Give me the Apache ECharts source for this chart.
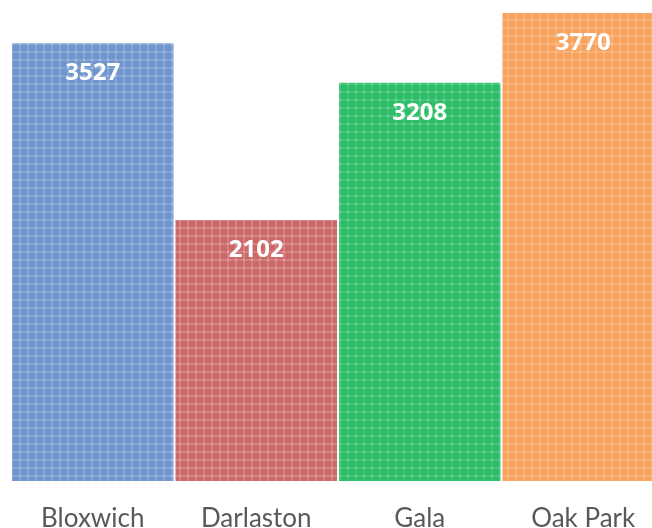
<!DOCTYPE html>
<html>
  <head>
    <meta charset="utf-8" />
    <title>Bars</title>
    <script src="https://cdn.jsdelivr.net/npm/echarts@6.0.0/dist/echarts.min.js"></script>
    <style>
      html, body { margin: 0; padding: 0; background: #fff; }
    </style>
  </head>
  <body>
    <div id="main" style="width: 652px;height:528px;"></div>
    <script type="text/javascript">
      var sites = ['Bloxwich', 'Darlaston', 'Gala', 'Oak Park'];
      var totals = [3527, 2102, 3208, 3770];
      var baseColors = ['#6e95cc', '#cc6868', '#2cbd67', '#f8a35d'];
      var lineColors = ['#84a4d5', '#d58080', '#44c579', '#f9b075'];

      // plaid tile so the bars get the woven look of the original
      function makeTile(base, line) {
        var c = document.createElement('canvas');
        c.width = 8;
        c.height = 8;
        var ctx = c.getContext('2d');
        ctx.fillStyle = base;
        ctx.fillRect(0, 0, 8, 8);
        ctx.fillStyle = line;
        ctx.fillRect(0, 3, 8, 2);
        ctx.fillRect(3, 0, 2, 8);
        ctx.fillStyle = 'rgba(255,255,255,0.25)';
        ctx.fillRect(3, 3, 2, 2);
        return c;
      }

      var barData = [];
      for (var i = 0; i < totals.length; i++) {
        barData.push({
          value: totals[i],
          itemStyle: {
            color: { image: makeTile(baseColors[i], lineColors[i]), repeat: 'repeat' }
          }
        });
      }

      var chart = echarts.init(document.getElementById('main'));
      var option = {
        animation: false,
        grid: { left: 11, width: 654, top: 13, bottom: 47, outerBoundsMode: 'none', containLabel: false },
        xAxis: {
          type: 'category',
          data: sites,
          axisLine: { show: false },
          axisTick: { show: false },
          axisLabel: {
            color: '#595959',
            fontFamily: 'Lato',
            fontSize: 26,
            margin: 25
          }
        },
        yAxis: {
          type: 'value',
          min: 0,
          max: 3770,
          show: false,
          splitLine: { show: false }
        },
        series: [
          {
            type: 'bar',
            data: barData,
            barCategoryGap: '1.2%',
            label: {
              show: true,
              position: 'insideTop',
              distance: 18,
              color: '#ffffff',
              fontFamily: 'Open Sans',
              fontWeight: 'bold',
              fontSize: 24
            }
          }
        ]
      };
      chart.setOption(option);
    </script>
  </body>
</html>
